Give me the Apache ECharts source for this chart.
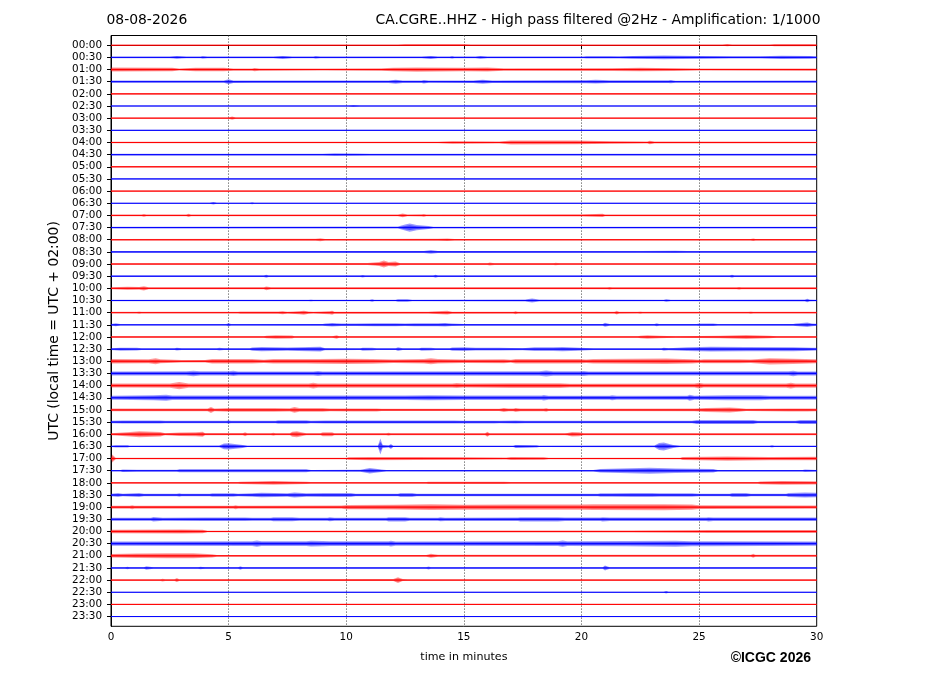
<!DOCTYPE html>
<html>
<head>
<meta charset="utf-8">
<script src="https://cdn.jsdelivr.net/npm/echarts@6/dist/echarts.min.js"></script>
<style>html,body{margin:0;padding:0;background:#fff}#chart{width:927px;height:696px}</style>
</head>
<body>
<div id="chart"></div>
<script>
// ---------------- data ----------------
const dateLabel = '08-08-2026';
const stationTitle = 'CA.CGRE..HHZ - High pass filtered @2Hz - Amplification: 1/1000';
const creditLabel = '\u00A9ICGC 2026';
const xAxisTitle = 'time in minutes';
const yAxisTitle = 'UTC (local time = UTC + 02:00)';
const minuteTicks = [0, 5, 10, 15, 20, 25, 30];
const timeLabels = ['00:00','00:30','01:00','01:30','02:00','02:30','03:00','03:30','04:00','04:30',
  '05:00','05:30','06:00','06:30','07:00','07:30','08:00','08:30','09:00','09:30',
  '10:00','10:30','11:00','11:30','12:00','12:30','13:00','13:30','14:00','14:30',
  '15:00','15:30','16:00','16:30','17:00','17:30','18:00','18:30','19:00','19:30',
  '20:00','20:30','21:00','21:30','22:00','22:30','23:00','23:30'];
const traceColors = ['#ff0000', '#0000ff'];

// envelope samples per trace: [minute, half-amplitude]
const t0000 = [[0,0.5],[12.2,0.5],[12.5,0.9],[15,0.9],[15.3,0.5],[26.0,0.5],[26.2,1.1],[26.4,0.5],[28.0,0.5],[28.2,1.0],[29.8,1.0],[30,0.7]];
const t0030 = [[0,0.8],[2.5,0.8],[2.8,1.4],[3.2,0.8],[3.8,0.8],[3.9,1.3],[4.1,0.8],[6.9,0.9],[7.3,1.5],[7.7,0.9],[8.6,0.9],[8.7,1.3],[8.9,0.8],[13.2,0.9],[13.6,1.5],[13.9,0.9],[14.4,0.9],[14.5,1.3],[14.6,0.9],[15.5,0.9],[15.7,1.4],[16.0,0.9],[20.1,0.9],[20.2,1.2],[21.2,1.2],[21.6,1.0],[22.2,1.4],[23.5,1.8],[25.0,1.4],[26.4,1.2],[27.6,1.2],[28.5,1.6],[29.7,1.4],[30,1.0]];
const t0100 = [[0,2.0],[2.6,1.8],[2.9,1.0],[3.6,1.8],[4.8,1.8],[5.2,1.1],[6.0,1.1],[6.1,1.6],[6.3,1.1],[9.0,1.0],[11.5,1.2],[12.0,1.8],[13.0,2.1],[15.0,1.8],[16.0,2.0],[16.7,1.2],[21.3,1.4],[22.5,1.8],[23.9,1.4],[25.0,1.0],[30,1.1]];
const t0130 = [[0,1.1],[4.8,1.1],[5.0,2.5],[5.2,1.3],[6.0,1.2],[11.8,1.2],[12.1,2.0],[12.4,1.2],[13.2,1.2],[13.3,1.8],[13.5,1.1],[15.4,1.3],[15.8,2.0],[16.2,1.3],[20.2,1.5],[20.6,1.9],[21.2,1.4],[23.7,1.4],[23.8,1.6],[24.0,1.0],[30,1.1]];
const t0200 = [[0,0.8],[30,0.8]];
const t0230 = [[0,0.6],[10.1,0.6],[10.3,1.0],[10.6,0.6],[30,0.6]];
const t0300 = [[0,0.7],[5.0,0.7],[5.15,1.6],[5.3,0.7],[30,0.7]];
const t0330 = [[0,0.6],[30,0.6]];
const t0400 = [[0,0.8],[13.9,0.8],[14.5,1.3],[16.5,1.0],[17.0,2.0],[19.8,1.9],[21.2,1.3],[22.8,1.0],[22.9,1.8],[23.1,0.9],[30,0.8]];
const t0430 = [[0,0.9],[9.0,0.9],[9.5,1.3],[10.5,1.2],[11.0,0.9],[30,0.9]];
const t0500 = [[0,0.8],[30,0.8]];
const t0530 = [[0,0.6],[30,0.6]];
const t0600 = [[0,0.7],[30,0.7]];
const t0630 = [[0,0.6],[4.2,0.6],[4.35,1.2],[4.5,0.6],[5.9,0.6],[6.0,1.1],[6.1,0.6],[30,0.6]];
const t0700 = [[0,0.9],[1.3,0.9],[1.4,1.4],[1.5,0.9],[3.2,0.9],[3.3,1.6],[3.4,0.9],[12.2,0.9],[12.4,1.8],[12.6,0.9],[13.2,1.0],[13.3,1.4],[13.4,0.9],[20.0,1.0],[20.9,1.6],[21.0,0.9],[30,0.9]];
const t0730 = [[0,0.9],[12.2,1.0],[12.5,3.0],[12.7,4.2],[13.0,2.6],[13.5,1.5],[13.7,0.9],[30,0.9]];
const t0800 = [[0,0.8],[8.7,0.9],[8.9,1.5],[9.1,0.8],[13.9,1.0],[14.3,1.3],[14.6,0.8],[27.2,0.8],[27.3,1.3],[27.4,0.8],[30,0.8]];
const t0830 = [[0,0.9],[13.3,1.0],[13.6,1.8],[13.9,1.0],[22.5,0.9],[24.0,1.2],[24.5,0.9],[30,0.9]];
const t0900 = [[0,0.8],[10.9,1.0],[11.4,2.0],[11.6,3.5],[11.8,2.0],[12.1,2.5],[12.3,0.9],[16.0,0.9],[16.1,1.5],[16.3,0.9],[18.8,0.9],[18.9,1.2],[19.1,0.8],[30,0.8]];
const t0930 = [[0,0.8],[6.5,0.8],[6.6,1.5],[6.7,0.8],[10.6,0.8],[10.7,1.3],[10.8,0.8],[13.7,0.8],[13.8,1.5],[13.9,0.8],[26.3,0.8],[26.4,1.5],[26.5,0.8],[30,0.8]];
const t1000 = [[0,1.0],[0.7,1.5],[1.2,1.4],[1.4,2.1],[1.6,1.0],[6.5,1.0],[6.6,1.8],[6.8,1.0],[21.1,1.0],[21.2,1.4],[21.3,1.0],[26.6,1.0],[26.7,1.4],[26.8,1.0],[30,1.0]];
const t1030 = [[0,0.8],[8.4,0.8],[8.5,1.1],[8.6,0.8],[11.0,0.8],[11.1,1.2],[11.2,0.8],[12.1,0.8],[12.2,1.2],[12.6,1.3],[12.8,0.8],[17.6,0.9],[17.9,2.0],[18.2,0.9],[23.5,0.8],[23.6,1.3],[23.8,0.8],[29.5,0.9],[29.6,1.8],[29.7,0.9],[30,0.8]];
const t1100 = [[0,0.8],[1.1,0.8],[1.2,1.2],[1.3,0.8],[5.4,0.8],[5.5,1.1],[7.1,1.2],[7.3,1.5],[7.5,0.9],[8.0,1.5],[8.2,2.0],[8.4,1.2],[8.6,0.8],[9.3,1.5],[9.4,2.0],[9.5,1.0],[13.5,0.9],[13.6,1.2],[14.3,1.8],[14.5,1.0],[17.1,0.9],[17.2,1.5],[17.3,0.9],[21.4,0.9],[21.5,1.8],[21.6,0.9],[22.4,0.8],[22.5,1.2],[22.6,0.8],[27.1,0.8],[27.2,1.2],[27.3,0.8],[30,0.8]];
const t1130 = [[0,0.8],[0.2,1.5],[0.4,0.8],[4.9,0.8],[5.0,1.8],[5.1,0.8],[9.0,0.9],[9.1,1.2],[9.4,1.8],[9.8,1.2],[10.4,1.2],[11.2,1.5],[12.1,1.5],[12.5,1.3],[12.9,1.5],[13.9,1.5],[14.2,1.8],[14.5,1.2],[15.0,0.9],[20.9,0.9],[21.0,2.0],[21.2,0.9],[23.1,0.9],[23.2,1.5],[23.3,0.9],[24.9,0.9],[25.0,1.2],[25.6,1.3],[25.8,0.8],[29.0,0.9],[29.1,1.2],[29.6,2.3],[29.8,1.4],[30,1.0]];
const t1200 = [[0,0.8],[6.5,0.8],[6.6,1.2],[7.0,1.8],[7.7,1.4],[7.8,0.8],[9.4,0.8],[9.5,1.2],[9.6,1.8],[9.7,0.8],[22.4,0.8],[22.5,1.2],[22.8,1.8],[23.3,1.2],[24.0,0.8],[25.9,1.3],[27.0,2.0],[28.0,1.2],[28.3,0.8],[30,0.8]];
const t1230 = [[0,0.9],[0.4,1.5],[1.1,1.3],[1.3,0.9],[2.7,0.9],[2.8,1.4],[3.0,0.9],[4.5,0.9],[4.6,1.3],[4.8,0.9],[5.9,0.9],[6.0,1.6],[6.4,2.1],[7.5,1.7],[8.9,2.3],[9.1,1.0],[10.6,0.9],[10.7,1.5],[11.1,1.3],[11.3,0.9],[12.1,0.9],[12.2,1.8],[12.4,0.9],[13.1,0.9],[13.2,1.5],[13.6,1.3],[13.8,0.9],[14.4,0.9],[14.5,1.7],[15.0,1.8],[15.5,1.3],[16.5,1.3],[17.5,1.0],[18.0,1.8],[18.8,1.8],[19.2,2.1],[19.9,1.5],[20.5,0.9],[23.4,0.9],[23.5,1.5],[23.7,1.0],[24.5,1.8],[25.5,2.3],[27.0,2.1],[29.0,2.0],[29.8,1.5],[30,1.3]];
const t1300 = [[0,2.2],[1.6,2.0],[1.9,3.0],[2.1,2.0],[3.0,1.2],[4.0,1.3],[4.3,2.2],[6.0,2.2],[6.5,1.6],[6.9,2.2],[8.3,2.2],[8.8,2.4],[10.0,2.6],[11.1,2.4],[12.0,1.8],[13.3,2.2],[13.6,3.0],[13.9,2.2],[15.0,1.8],[16.7,2.0],[17.0,1.5],[17.2,2.3],[19.9,2.3],[20.2,1.7],[20.5,2.2],[23.6,2.8],[24.7,2.1],[25.0,1.6],[25.2,2.0],[26.7,2.0],[27.2,1.8],[28.0,3.1],[29.0,2.6],[30,2.0]];
const t1330 = [[0,2.0],[3.2,2.1],[3.5,2.8],[3.8,2.1],[5.0,2.1],[5.2,2.6],[5.4,2.0],[8.6,2.0],[8.8,2.5],[9.0,2.0],[18.2,2.2],[18.5,3.0],[18.8,2.2],[19.9,2.2],[20.1,2.5],[20.3,2.0],[28.8,2.1],[29.0,2.8],[29.2,2.0],[30,2.0]];
const t1400 = [[0,2.0],[2.5,2.2],[2.9,3.6],[3.3,2.2],[8.4,2.1],[8.6,2.8],[8.8,2.1],[14.5,2.1],[14.7,2.5],[15.0,2.0],[17.0,2.4],[19.1,2.4],[19.5,1.9],[24.8,2.0],[25.0,2.8],[25.2,2.0],[28.7,2.2],[28.9,2.8],[29.1,2.1],[30,2.2]];
const t1430 = [[0,2.0],[1.8,2.6],[2.35,3.1],[2.6,2.2],[12.5,2.2],[13.5,2.6],[15.0,2.3],[18.3,2.3],[18.4,2.8],[18.6,2.1],[21.2,2.1],[21.3,2.5],[21.5,2.0],[24.5,2.1],[24.6,3.0],[24.8,2.1],[26.2,2.4],[27.6,2.4],[28.0,2.0],[30,2.0]];
const t1500 = [[0,1.3],[4.1,1.3],[4.25,3.0],[4.4,1.4],[5.0,1.8],[6.9,1.8],[7.6,1.6],[7.8,2.8],[8.0,1.8],[9.0,1.8],[9.3,1.3],[10.3,1.5],[11.3,1.5],[11.5,1.2],[16.5,1.2],[16.7,2.0],[16.9,1.3],[17.1,1.3],[17.2,2.0],[17.4,1.3],[18.4,1.3],[18.5,1.8],[18.6,1.2],[24.8,1.3],[25.3,2.0],[26.3,2.5],[26.7,1.8],[27.0,1.2],[28.8,1.5],[29.6,1.5],[30,1.3]];
const t1530 = [[0,1.2],[0.5,1.5],[2.1,1.5],[2.3,1.2],[4.9,1.2],[5.0,1.8],[5.1,1.2],[7.0,1.2],[7.1,1.8],[8.3,1.8],[8.5,1.2],[9.1,1.5],[12.0,1.5],[13.3,1.5],[14.6,1.5],[15.0,1.4],[16.3,1.4],[16.5,1.2],[17.2,1.5],[17.6,1.2],[24.7,1.2],[24.9,2.0],[27.3,2.0],[27.5,1.2],[29.1,1.2],[29.3,2.0],[30,2.0]];
const t1600 = [[0,1.0],[0.8,2.2],[1.2,3.0],[2.1,2.2],[2.3,1.1],[2.9,1.8],[3.6,2.0],[3.9,2.6],[4.0,1.1],[5.6,1.1],[5.7,2.0],[5.8,1.0],[6.8,1.0],[6.9,1.5],[7.0,1.0],[7.6,1.0],[7.7,2.5],[7.9,3.0],[8.1,2.0],[8.3,1.0],[8.9,1.0],[9.0,2.0],[9.4,2.0],[9.5,1.0],[11.7,1.0],[11.8,1.5],[11.9,1.0],[15.9,1.0],[16.0,2.6],[16.1,1.0],[19.3,1.0],[19.4,1.3],[19.6,2.2],[19.9,2.0],[20.1,1.0],[30,1.0]];
const t1630 = [[0,0.6],[0.2,1.2],[0.7,1.1],[0.8,0.6],[4.6,0.8],[4.8,2.8],[5.0,3.2],[5.6,1.5],[5.8,0.6],[11.35,0.8],[11.45,8.0],[11.55,1.5],[11.8,1.0],[11.9,2.5],[12.0,0.7],[17.1,0.6],[17.2,1.5],[18.1,1.2],[18.2,0.6],[23.1,0.8],[23.3,3.5],[23.5,4.0],[23.9,1.5],[24.2,0.6],[28.0,0.6],[28.1,1.2],[28.2,0.6],[30,0.6]];
const t1700 = [[0,0.7],[0.05,4.0],[0.2,0.7],[10.0,0.7],[10.1,1.3],[11.0,1.6],[13.0,1.5],[15.0,1.3],[16.8,1.0],[17.0,1.5],[18.4,1.3],[18.6,0.8],[24.2,0.8],[24.3,1.5],[26.2,2.1],[28.0,1.6],[30,1.7]];
const t1730 = [[0,0.7],[0.4,0.7],[0.5,1.3],[1.1,1.0],[2.8,1.0],[2.9,1.5],[8.3,1.5],[8.5,0.8],[10.6,1.0],[11.0,2.8],[11.5,1.3],[11.7,0.7],[20.5,0.8],[20.8,1.8],[22.9,3.0],[24.0,2.2],[25.6,1.8],[25.8,0.8],[29.4,0.8],[29.5,1.2],[30,0.8]];
const t1800 = [[0,0.8],[5.4,0.8],[5.5,1.2],[6.9,1.8],[8.3,1.2],[8.5,0.8],[13.4,0.8],[13.5,1.1],[15.0,1.2],[16.7,1.1],[17.0,0.8],[27.5,0.8],[27.6,1.4],[28.5,1.8],[30,1.7]];
const t1830 = [[0,1.2],[0.3,2.0],[0.5,1.2],[1.2,2.0],[1.4,1.2],[2.8,1.2],[2.9,1.8],[3.0,1.2],[4.2,1.2],[4.3,1.8],[5.2,1.8],[5.4,1.2],[6.0,1.8],[6.4,2.3],[7.5,1.8],[7.8,2.5],[8.3,1.8],[9.1,2.0],[10.2,2.0],[10.4,1.2],[12.2,1.2],[12.3,2.0],[12.8,2.0],[13.0,1.2],[20.7,1.2],[20.8,1.8],[21.3,1.8],[22.2,2.0],[23.0,2.0],[23.3,1.8],[24.7,1.8],[25.0,1.2],[26.3,1.2],[26.4,2.0],[27.0,2.0],[27.2,1.2],[28.7,1.2],[28.8,2.0],[29.5,2.5],[30,2.3]];
const t1900 = [[0,1.5],[0.8,1.5],[0.9,2.0],[1.0,1.5],[5.2,1.5],[5.3,2.0],[5.4,1.5],[9.8,1.6],[10.0,2.2],[12.0,2.4],[13.6,2.8],[15.0,2.5],[17.0,2.6],[19.9,2.6],[20.5,2.8],[23.5,3.0],[24.7,2.6],[25.0,1.8],[30,1.6]];
const t1930 = [[0,1.5],[1.7,1.5],[1.8,2.3],[2.2,1.5],[4.0,1.8],[5.7,1.8],[6.0,1.5],[6.8,1.5],[6.9,2.0],[7.7,2.0],[8.0,1.5],[9.2,1.5],[9.3,2.0],[9.5,1.5],[11.7,1.5],[11.8,2.2],[12.5,2.2],[12.7,1.5],[13.9,1.5],[14.0,2.0],[14.2,1.6],[17.3,1.8],[17.4,2.2],[19.0,2.2],[19.3,1.8],[20.8,1.8],[20.9,2.2],[21.2,1.8],[25.3,1.8],[25.4,2.2],[25.6,1.8],[30,1.8]];
const t2000 = [[0,1.8],[3.0,2.1],[3.9,1.8],[4.1,0.8],[15.0,0.9],[22.0,1.1],[24.7,1.2],[25.4,1.5],[30,1.5]];
const t2030 = [[0,2.2],[6.0,2.3],[6.2,3.2],[6.4,2.3],[8.3,2.4],[8.5,2.8],[9.0,2.6],[9.3,2.3],[11.8,2.3],[11.9,2.8],[12.1,2.2],[19.0,2.3],[19.2,3.2],[19.4,2.3],[21.9,2.6],[24.0,3.0],[24.7,2.5],[25.4,2.5],[30,2.2]];
const t2100 = [[0,1.8],[1.1,2.2],[2.4,2.5],[3.5,2.5],[4.3,1.6],[4.5,0.9],[13.4,0.9],[13.6,2.0],[13.9,1.0],[27.2,1.0],[27.3,2.0],[27.4,1.0],[30,1.0]];
const t2130 = [[0,0.8],[0.6,0.8],[0.7,1.3],[0.8,0.8],[1.4,0.8],[1.5,1.8],[1.8,0.8],[3.7,0.8],[3.8,1.3],[4.0,0.8],[5.4,0.8],[5.5,1.8],[5.6,0.8],[13.4,0.8],[13.5,1.5],[13.6,0.8],[20.9,0.8],[21.0,2.5],[21.2,0.8],[30,0.8]];
const t2200 = [[0,0.8],[2.1,0.8],[2.2,1.3],[2.3,0.8],[2.7,0.8],[2.8,2.0],[2.9,0.8],[12.0,1.0],[12.2,2.8],[12.4,1.0],[12.6,0.8],[30,0.8]];
const t2230 = [[0,0.6],[23.5,0.6],[23.6,1.2],[23.7,0.6],[30,0.6]];
const t2300 = [[0,0.6],[30,0.6]];
const t2330 = [[0,0.5],[30,0.5]];

const traces = [t0000,t0030,t0100,t0130,t0200,t0230,t0300,t0330,t0400,t0430,
  t0500,t0530,t0600,t0630,t0700,t0730,t0800,t0830,t0900,t0930,
  t1000,t1030,t1100,t1130,t1200,t1230,t1300,t1330,t1400,t1430,
  t1500,t1530,t1600,t1630,t1700,t1730,t1800,t1830,t1900,t1930,
  t2000,t2030,t2100,t2130,t2200,t2230,t2300,t2330];

// ---------------- drawing ----------------
const AMP_PER_TRACE = 12.17; // amplitude units per trace spacing
const FONT = "'DejaVu Sans', sans-serif";
const traceRows = timeLabels.map((_, i) => [0, i]);
const rowValues = timeLabels.map((_, i) => i);

function renderTrace(params, api) {
  const i = api.value(1);
  const pts = traces[i];
  const color = traceColors[i % 2];
  const band = (f) => {
    const up = pts.map(p => api.coord([p[0], i - p[1] * f / AMP_PER_TRACE]));
    const dn = pts.slice().reverse().map(p => api.coord([p[0], i + p[1] * f / AMP_PER_TRACE]));
    return up.concat(dn);
  };
  const a = api.coord([pts[0][0], i]);
  const b = api.coord([pts[pts.length - 1][0], i]);
  return {
    type: 'group',
    children: [
      { type: 'polygon', shape: { points: band(1) }, style: { fill: echarts.color.modifyAlpha(color, 0.4) } },
      { type: 'polygon', shape: { points: band(0.55) }, style: { fill: echarts.color.modifyAlpha(color, 0.5) } },
      { type: 'line', shape: { x1: a[0], y1: a[1], x2: b[0], y2: b[1] }, style: { stroke: color, lineWidth: 1 } }
    ]
  };
}

const chart = echarts.init(document.getElementById('chart'));
chart.setOption({
  animation: false,
  backgroundColor: '#ffffff',
  textStyle: { fontFamily: FONT },
  grid: { left: 111, right: 110.3, top: 35.5, bottom: 69.7, show: true, borderColor: '#000', borderWidth: 1, backgroundColor: 'transparent' },
  xAxis: {
    type: 'value', min: minuteTicks[0], max: minuteTicks[minuteTicks.length - 1], interval: 5,
    axisLine: { show: true, lineStyle: { color: '#000', width: 1 } },
    axisTick: { show: true, length: 4, lineStyle: { color: '#000' } },
    axisLabel: { color: '#000', fontSize: 10.4, margin: 6, fontFamily: FONT },
    splitLine: { show: true, lineStyle: { color: '#333', width: 0.8, type: [1.2, 1.8] } },
    name: xAxisTitle, nameLocation: 'middle', nameGap: 25,
    nameTextStyle: { color: '#000', fontSize: 11.1, fontFamily: FONT }
  },
  yAxis: {
    type: 'value', inverse: true, min: -0.8, max: 47.8,
    axisLine: { show: true, lineStyle: { color: '#000', width: 1 } },
    axisTick: { show: true, length: 4, customValues: rowValues, lineStyle: { color: '#000' } },
    axisLabel: { customValues: rowValues, formatter: v => timeLabels[Math.round(v)], color: '#000', fontSize: 10.4, margin: 9, fontFamily: FONT },
    splitLine: { show: false },
    name: yAxisTitle, nameLocation: 'middle', nameGap: 47,
    nameTextStyle: { color: '#000', fontSize: 13.9, fontFamily: FONT }
  },
  series: [{
    type: 'custom', renderItem: renderTrace, data: traceRows,
    encode: { x: 0, y: 1 }, clip: true, silent: true, z: 3
  }],
  graphic: [
    { type: 'text', x: 106.5, y: 20, style: { text: dateLabel, font: "13.9px 'DejaVu Sans'", fill: '#000', textAlign: 'left', textVerticalAlign: 'middle' } },
    { type: 'text', x: 820.5, y: 20, style: { text: stationTitle, font: "13.9px 'DejaVu Sans'", fill: '#000', textAlign: 'right', textVerticalAlign: 'middle' } },
    { type: 'text', x: 811, y: 658, style: { text: creditLabel, font: "bold 14px 'Liberation Sans'", fill: '#000', textAlign: 'right', textVerticalAlign: 'middle' } }
  ]
});
</script>
</body>
</html>
